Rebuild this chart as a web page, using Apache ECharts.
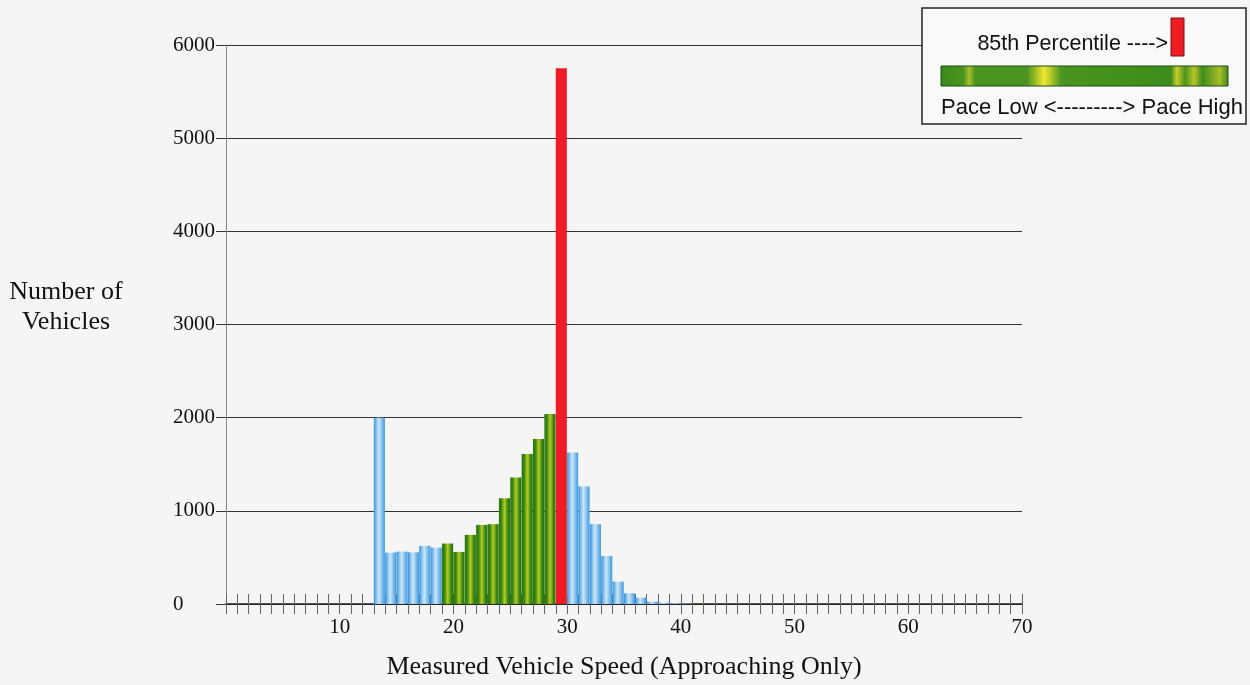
<!DOCTYPE html>
<html>
<head>
<meta charset="utf-8">
<script src="https://cdn.jsdelivr.net/npm/echarts@6/dist/echarts.min.js"></script>
<style>
html,body{margin:0;padding:0;background:#f5f5f5;}
#chart{width:1250px;height:685px;}
</style>
</head>
<body>
<div id="chart"></div>
<script>
// ---- data ----
const speeds = [13,14,15,16,17,18,19,20,21,22,23,24,25,26,27,28,29,30,31,32,33,34,35,36,37,38,39,40];
const counts = [2000,552,562,555,624,606,649,559,742,849,857,1136,1358,1609,1771,2039,5750,1627,1261,857,516,240,115,68,25,14,8,4];
const paceLow = 19;      // first bin of the pace
const paceHigh = 28;     // last bin of the pace
const percentile85 = 29; // 85th percentile bin
const yTicks = [0,1000,2000,3000,4000,5000,6000];
const xLabels = [10,20,30,40,50,60,70];

const serif = '"Liberation Serif", "DejaVu Serif", serif';
const sans = '"Liberation Sans", Arial, sans-serif';

const blueFill = {type:'linear',x:0,y:0,x2:1,y2:0,colorStops:[
  {offset:0,color:'#2f92dc'},{offset:0.2,color:'#7dbcec'},{offset:0.45,color:'#cfe6f7'},
  {offset:0.7,color:'#8cc4ee'},{offset:1,color:'#3c99de'}]};
const greenFill = {type:'linear',x:0,y:0,x2:1,y2:0,colorStops:[
  {offset:0,color:'#23700e'},{offset:0.25,color:'#3f8c14'},{offset:0.5,color:'#b4ca20'},
  {offset:0.62,color:'#8cb41c'},{offset:0.8,color:'#3a8a12'},{offset:1,color:'#226c0e'}]};
const redFill = '#ee1c24';

const chart = echarts.init(document.getElementById('chart'));
chart.setOption({
  backgroundColor:'#f5f5f5',
  animation:false,
  grid:{left:226,right:228,top:45,bottom:76,containLabel:false},
  xAxis:[{
    type:'value',position:'bottom',min:0,max:70,interval:1,
    axisLine:{show:true,lineStyle:{color:'#222',width:1.5}},
    axisTick:{show:true,length:10,inside:false,lineStyle:{color:'#666',width:1}},
    axisLabel:{margin:13,fontFamily:serif,fontSize:21,color:'#111',
      formatter:v=> xLabels.indexOf(v)>=0 ? String(v) : ''},
    splitLine:{show:false},
    name:'Measured Vehicle Speed (Approaching Only)',nameLocation:'middle',nameGap:50,
    nameTextStyle:{fontFamily:serif,fontSize:26,color:'#111'}
  },{
    type:'value',position:'bottom',min:0,max:70,interval:1,
    axisLine:{show:false},
    axisTick:{show:true,length:10,inside:true,lineStyle:{color:'#666',width:1}},
    axisLabel:{show:false},splitLine:{show:false}
  }],
  yAxis:{
    type:'value',min:0,max:6000,interval:1000,
    axisLine:{show:true,lineStyle:{color:'#888',width:1}},
    axisTick:{show:true,length:10,lineStyle:{color:'#333'}},
    axisLabel:{align:'left',margin:53,fontFamily:serif,fontSize:21,color:'#111',
      formatter:v=> yTicks.indexOf(v)>=0 ? String(v) : ''},
    splitLine:{show:true,lineStyle:{color:'#333',width:1}}
  },
  series:[{
    type:'custom',
    data:speeds.map((s,i)=>[s,counts[i]]),
    encode:{x:0,y:1},
    renderItem:function(params,api){
      const s = api.value(0), v = api.value(1);
      const p0 = api.coord([s,0]);
      const p1 = api.coord([s+1,v]);
      let fill = blueFill;
      if (s === percentile85) fill = redFill;
      else if (s >= paceLow && s <= paceHigh) fill = greenFill;
      return {type:'rect',
        shape:{x:p0[0],y:p1[1],width:p1[0]-p0[0]-0.3,height:p0[1]-p1[1]},
        style:{fill:fill}};
    },
    z:3
  }],
  graphic:[
    {type:'text',x:66,y:307,z:10,
      style:{text:'Number of\nVehicles',fontFamily:serif,fontSize:26,lineHeight:30,
        fill:'#111',textAlign:'center',textVerticalAlign:'middle'}},
    {type:'group',z:20,children:[
      {type:'rect',shape:{x:922,y:8,width:324,height:116},
        style:{fill:'#f9f9f9',stroke:'#222',lineWidth:1.5},z:20},
      {type:'text',x:1168,y:44,z:21,
        style:{text:'85th Percentile ---->',fontFamily:sans,fontSize:21.5,fill:'#111',
          textAlign:'right',textVerticalAlign:'middle'}},
      {type:'rect',shape:{x:1171,y:18,width:13,height:38},
        style:{fill:'#ee1c24',stroke:'#7a1010',lineWidth:1},z:21},
      {type:'rect',shape:{x:941,y:66,width:287,height:20},z:21,
        style:{stroke:'#1e4a10',lineWidth:1,fill:{type:'linear',x:0,y:0,x2:1,y2:0,colorStops:[
          {offset:0,color:'#3a8a1c'},{offset:0.08,color:'#4a9420'},{offset:0.1,color:'#a8c028'},
          {offset:0.12,color:'#4a9420'},{offset:0.3,color:'#4a9420'},{offset:0.36,color:'#f0e830'},
          {offset:0.42,color:'#4a9420'},{offset:0.8,color:'#3e8c1c'},{offset:0.82,color:'#c8cc28'},
          {offset:0.85,color:'#4a9420'},{offset:0.88,color:'#b8c428'},{offset:0.91,color:'#3e8c1c'},
          {offset:0.97,color:'#a8bc24'},{offset:1,color:'#3a8a1c'}]}}},
      {type:'text',x:941,y:108,z:21,
        style:{text:'Pace Low <---------> Pace High',fontFamily:sans,fontSize:22,fill:'#111',
          textAlign:'left',textVerticalAlign:'middle'}}
    ]}
  ]
});
</script>
</body>
</html>
